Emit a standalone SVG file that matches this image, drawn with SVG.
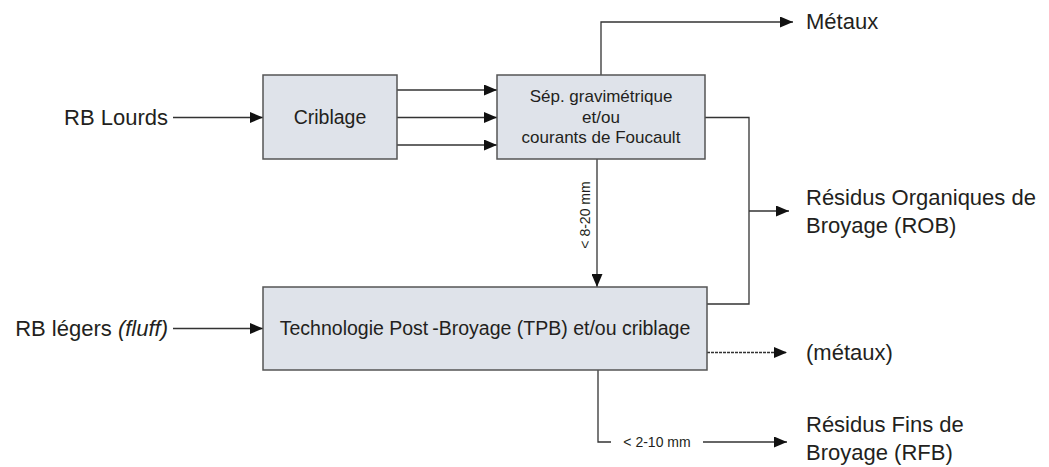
<svg xmlns="http://www.w3.org/2000/svg" width="1049" height="467" viewBox="0 0 1049 467">
<style>
.box{fill:#dfe3ea;stroke:#555;stroke-width:1.5}
.ln{fill:none;stroke:#333;stroke-width:1.3}
.t{font-family:"Liberation Sans",Arial,sans-serif;fill:#231f20}
.big{font-size:22px}
.mid{font-size:19.5px}
.sm{font-size:17px}
.xs{font-size:14px}
</style>
<defs>
<marker id="ah" markerUnits="userSpaceOnUse" markerWidth="13" markerHeight="11" refX="13" refY="5.5" orient="auto" viewBox="0 0 13 11">
<path d="M0,0 L13,5.5 L0,11 z" fill="#111"/>
</marker>
</defs>
<rect width="1049" height="467" fill="#fff"/>
<g id="connectors">
<line class="ln" x1="173" y1="117.5" x2="263" y2="117.5" marker-end="url(#ah)"/>
<line class="ln" x1="173" y1="328.5" x2="263" y2="328.5" marker-end="url(#ah)"/>
<line class="ln" x1="397" y1="90" x2="497" y2="90" marker-end="url(#ah)"/>
<line class="ln" x1="397" y1="117.5" x2="497" y2="117.5" marker-end="url(#ah)"/>
<line class="ln" x1="397" y1="145" x2="497" y2="145" marker-end="url(#ah)"/>
<path class="ln" d="M601,75 V22 H793" marker-end="url(#ah)"/>
<path class="ln" d="M705,117.5 H749 V304 H707"/>
<path class="ln" d="M749,211 H789" marker-end="url(#ah)"/>
<line class="ln" x1="597" y1="159" x2="597" y2="287" marker-end="url(#ah)"/>
<path class="ln" d="M707,352.5 H787" stroke-dasharray="3,1" marker-end="url(#ah)"/>
<path class="ln" d="M598,370 V442 H611"/>
<path class="ln" d="M703,442 H787" marker-end="url(#ah)"/>
<text class="t xs" transform="translate(590,215) rotate(-90)" text-anchor="middle">&lt; 8-20 mm</text>
<text class="t xs" x="657" y="446.5" text-anchor="middle">&lt; 2-10 mm</text>
</g>
<g id="criblage">
<rect class="box" x="263" y="75" width="134" height="84"/>
<text class="t mid" x="330" y="124" text-anchor="middle">Criblage</text>
</g>
<g id="sep">
<rect class="box" x="497" y="75" width="208" height="84"/>
<text class="t sm" text-anchor="middle"><tspan x="601" y="102">Sép. gravimétrique</tspan><tspan x="601" y="122.5">et/ou</tspan><tspan x="601" y="143">courants de Foucault</tspan></text>
</g>
<g id="tpb">
<rect class="box" x="263" y="287" width="444" height="83"/>
<text class="t mid" x="485" y="335" text-anchor="middle">Technologie Post<tspan dx="4">-Broyage (TPB) et/ou criblage</tspan></text>
</g>
<g id="inputs">
<text class="t big" x="168" y="125" text-anchor="end">RB Lourds</text>
<text class="t big" x="168" y="336" text-anchor="end">RB légers <tspan font-style="italic">(fluff)</tspan></text>
</g>
<g id="outputs">
<text class="t big" x="806" y="28.5">Métaux</text>
<text class="t big"><tspan x="806" y="205">Résidus Organiques de</tspan><tspan x="806" y="233">Broyage (ROB)</tspan></text>
<text class="t big" x="806" y="360">(métaux)</text>
<text class="t big"><tspan x="806" y="432">Résidus Fins de</tspan><tspan x="806" y="460">Broyage (RFB)</tspan></text>
</g>
</svg>
